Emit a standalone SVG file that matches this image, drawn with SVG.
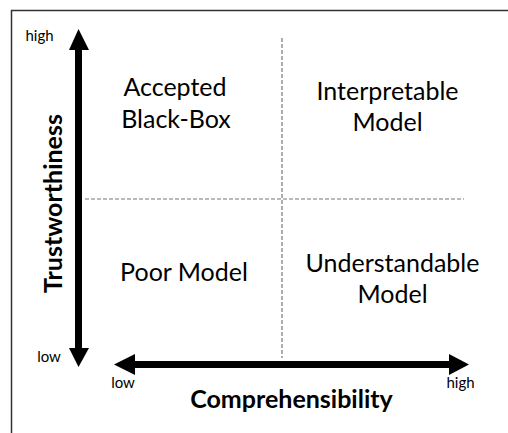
<svg xmlns="http://www.w3.org/2000/svg" width="508" height="433" viewBox="0 0 508 433">
<style>
.q{font-family:Lato,"Open Sans","Liberation Sans",sans-serif;font-size:25px;fill:#000;text-anchor:middle}
.s{font-family:Lato,"Open Sans","Liberation Sans",sans-serif;font-size:15px;fill:#000;text-anchor:middle}
.t{font-family:Lato,"Open Sans","Liberation Sans",sans-serif;font-size:25px;font-weight:bold;fill:#000;text-anchor:middle}
.d{stroke:#777;stroke-width:1.2;stroke-dasharray:4 2;fill:none}
</style>
<rect width="508" height="433" fill="#fff"/>
<path d="M11.5 433 V10.5 H508" fill="none" stroke="#333" stroke-width="1.5"/>
<g id="connectors">
<line class="d" x1="282" y1="38" x2="282" y2="358"/>
<line class="d" x1="85" y1="199" x2="464" y2="199"/>
<rect x="75" y="49" width="7" height="300" fill="#000"/>
<polygon points="78.5,29 69,50 89,50" fill="#000"/>
<polygon points="78.5,367 69,348 89,348" fill="#000"/>
<rect x="134" y="361" width="316" height="7" fill="#000"/>
<polygon points="114,364.5 135,354 135,375" fill="#000"/>
<polygon points="469,364.5 449,354 449,375" fill="#000"/>
</g>
<g id="axis-labels">
<text class="s" x="39.5" y="41">high</text>
<text class="s" x="49" y="362">low</text>
<text class="s" x="123" y="388">low</text>
<text class="s" x="460.5" y="388">high</text>
<text class="t" transform="translate(62,203.5) rotate(-90)">Trustworthiness</text>
<text class="t" x="291.5" y="408">Comprehensibility</text>
</g>
<g id="accepted-black-box"><text class="q" x="175" y="96">Accepted</text><text class="q" x="176" y="128">Black-Box</text></g>
<g id="interpretable-model"><text class="q" x="387.5" y="99.5">Interpretable</text><text class="q" x="387.5" y="131">Model</text></g>
<g id="poor-model"><text class="q" x="184" y="281">Poor Model</text></g>
<g id="understandable-model"><text class="q" x="392.5" y="272">Understandable</text><text class="q" x="392.5" y="303">Model</text></g>
</svg>
